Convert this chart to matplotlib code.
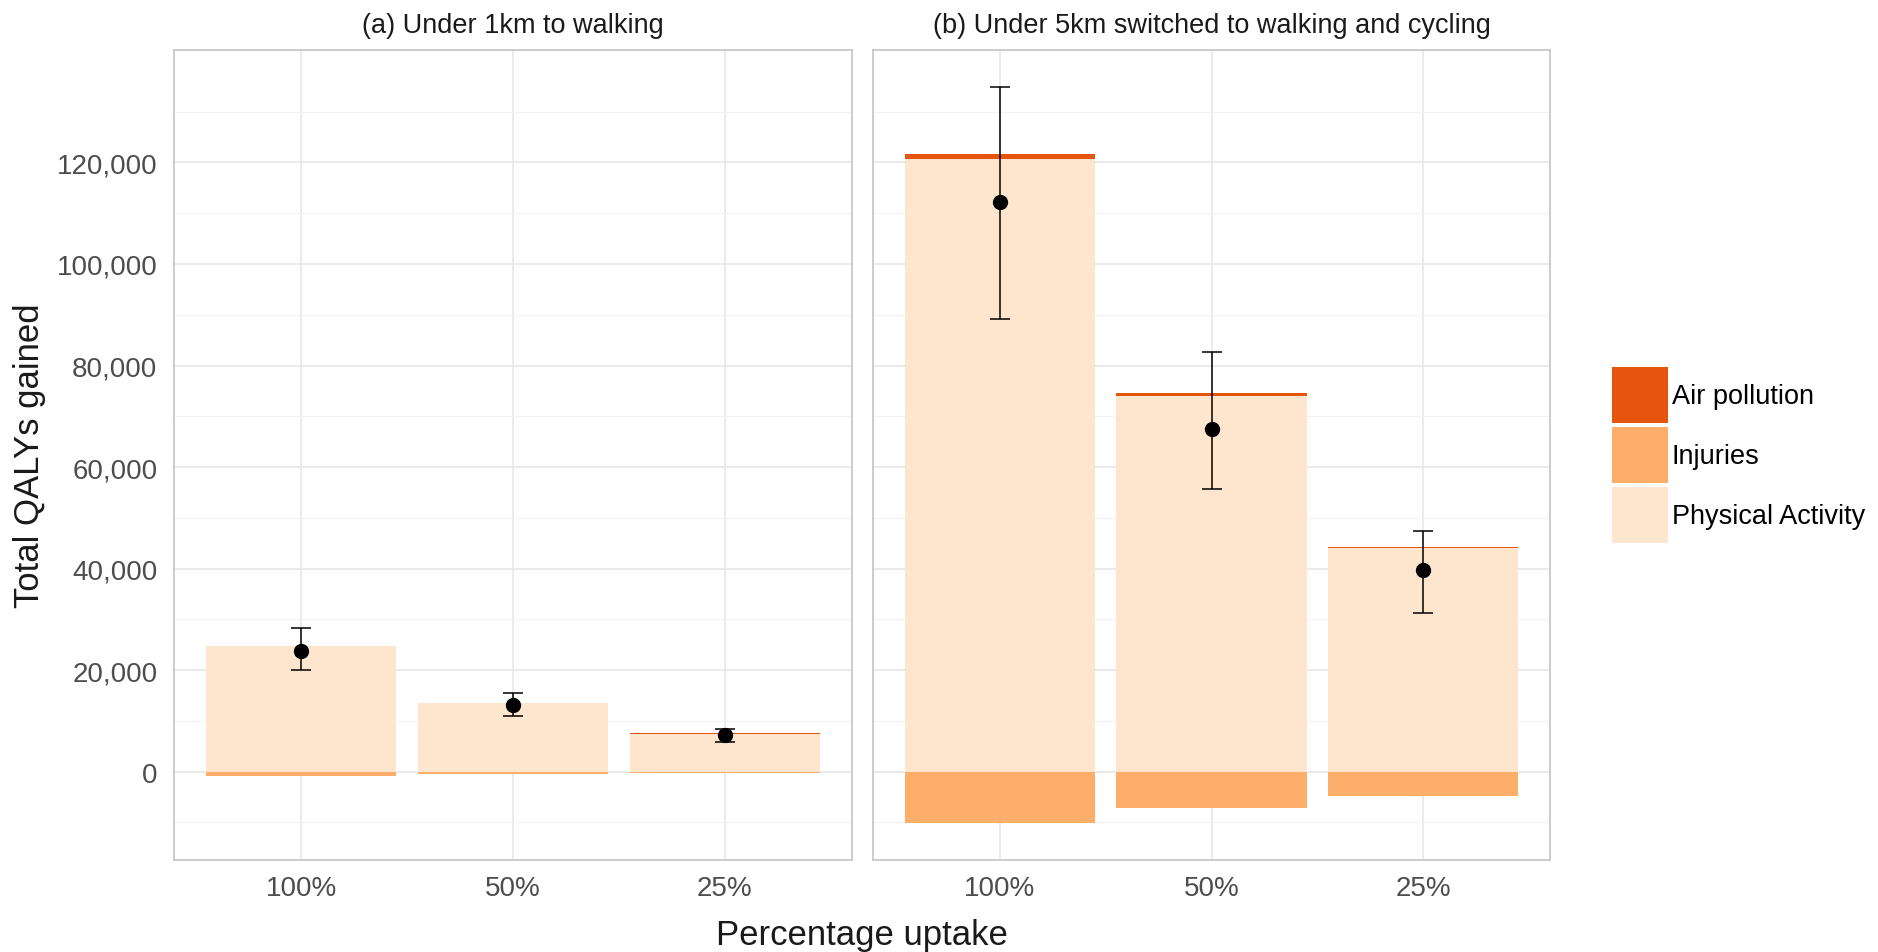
import numpy as np
import matplotlib.pyplot as plt
from matplotlib.patches import Patch
from matplotlib.ticker import FuncFormatter, FixedLocator

plt.rcParams['font.family'] = ['Liberation Sans', 'DejaVu Sans']

# data
uptake = ['100%', '50%', '25%']
titles = ['(a) Under 1km to walking', '(b) Under 5km switched to walking and cycling']
major_ticks = [0, 20000, 40000, 60000, 80000, 100000, 120000]
minor_ticks = [-10000, 10000, 30000, 50000, 70000, 90000, 110000, 130000]

# (a) under 1km to walking
pa_a = [24700, 13550, 7500]
air_a = [60, 30, 30]
inj_a = [-800, -450, -250]
mid_a = [23750, 13100, 7200]
lo_a = [20000, 11000, 5900]
hi_a = [28300, 15400, 8400]

# (b) under 5km to walking and cycling
pa_b = [120600, 73900, 44000]
air_b = [1100, 650, 300]
inj_b = [-10150, -7200, -4700]
mid_b = [112200, 67500, 39700]
lo_b = [89100, 55600, 31200]
hi_b = [134900, 82600, 47500]

c_air = '#E6550D'
c_inj = '#FDAE6B'
c_pa = '#FEE6CE'

fig = plt.figure(figsize=(18.78, 9.53), dpi=100)
ax_a = fig.add_axes([174 / 1878, 92 / 953, 678 / 1878, 810 / 953])
ax_b = fig.add_axes([873 / 1878, 92 / 953, 677 / 1878, 810 / 953], sharey=ax_a)

panels = [
    (ax_a, pa_a, air_a, inj_a, mid_a, lo_a, hi_a),
    (ax_b, pa_b, air_b, inj_b, mid_b, lo_b, hi_b),
]

x = np.arange(1, len(uptake) + 1)
for i, (ax, pa, air, inj, mid, lo, hi) in enumerate(panels):
    ax.bar(x, pa, width=0.9, color=c_pa, zorder=2)
    ax.bar(x, air, width=0.9, bottom=pa, color=c_air, zorder=2)
    ax.bar(x, inj, width=0.9, color=c_inj, zorder=2)

    mid = np.array(mid)
    yerr = [mid - np.array(lo), np.array(hi) - mid]
    ax.errorbar(x, mid, yerr=yerr, fmt='o', color='black', ms=10,
                capsize=7, elinewidth=1.1, capthick=1.1, zorder=3)

    ax.set_xlim(0.4, 3.6)
    ax.set_ylim(-17400, 142150)
    ax.set_xticks(x)
    ax.set_xticklabels(uptake)
    ax.yaxis.set_major_locator(FixedLocator(major_ticks))
    ax.yaxis.set_minor_locator(FixedLocator(minor_ticks))
    ax.yaxis.set_major_formatter(FuncFormatter(lambda v, p: f'{v:,.0f}'))

    ax.set_axisbelow(True)
    ax.grid(True, which='major', color='#E6E6E6', lw=1.1)
    ax.grid(True, which='minor', axis='y', color='#F2F2F2', lw=0.8)
    for s in ax.spines.values():
        s.set_color('#C8C8C8')
        s.set_linewidth(1.3)

    ax.tick_params(axis='both', which='both', length=0, labelsize=20,
                   labelcolor='#4D4D4D')
    ax.tick_params(axis='y', pad=12)
    ax.tick_params(axis='x', pad=11)
    ax.set_title(titles[i], fontsize=19.5, color='#1A1A1A', pad=13)

ax_b.tick_params(axis='y', labelleft=False)

fig.text(0.5 * (174 + 1550) / 1878, 0.018, 'Percentage uptake', fontsize=25,
         ha='center', va='center', color='#1A1A1A')
fig.text(30 / 1878, 0.5215, 'Total QALYs gained', fontsize=25, rotation=90,
         ha='center', va='center', color='#1A1A1A')

handles = [Patch(facecolor=c_air, label='Air pollution'),
           Patch(facecolor=c_inj, label='Injuries'),
           Patch(facecolor=c_pa, label='Physical Activity')]
fig.legend(handles=handles, loc='center left', bbox_to_anchor=(1612 / 1878, 0.5215),
           frameon=False, fontsize=19.5, handlelength=2.05, handleheight=2.8,
           labelspacing=0.15, handletextpad=0.15, borderpad=0, borderaxespad=0)

fig.savefig('out.png', dpi=100)
